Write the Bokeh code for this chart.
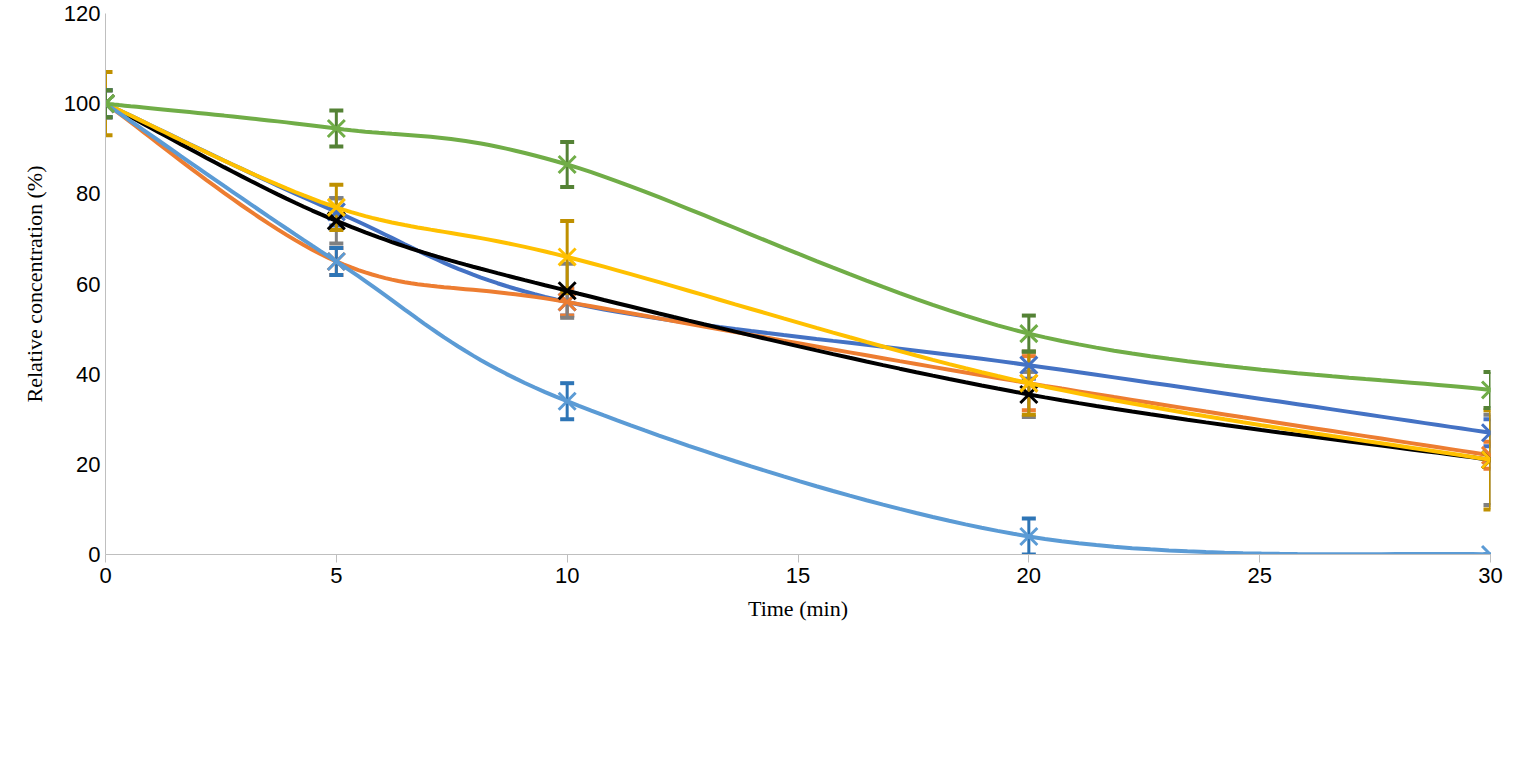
import numpy as np
from bokeh.plotting import figure
from bokeh.models import ColumnDataSource, Whisker, Legend, LegendItem
from bokeh.embed import file_html
from bokeh.resources import INLINE

time = [0, 5, 10, 20, 30]
names = ["Amoxicillin", "Ampicillin", "Phenoxymethylpenicillin", "Benzylpenicillin", "Cefotaxime", "Cefazolin"]
amox = [100, 76, 56, 42, 27]
amox_err = [3, 3, 3, 3, 3]
ampi = [100, 65, 56, 38, 22]
ampi_err = [3, 3, 3, 6, 3]
phen = [100, 74, 58.5, 35.5, 21]
phen_err = [3, 5, 6, 5, 10]
benz = [100, 77, 66, 38, 21]
benz_err = [7, 5, 8, 7, 11]
cefo = [100, 65, 34, 4, 0]
cefo_err = [3, 3, 4, 4, 0]
cefa = [100, 94.5, 86.5, 49, 36.5]
cefa_err = [3, 4, 5, 4, 4]

series = [amox, ampi, phen, benz, cefo, cefa]
errs = [amox_err, ampi_err, phen_err, benz_err, cefo_err, cefa_err]
line_colors = ["#4472C4", "#ED7D31", "#000000", "#FFC000", "#5B9BD5", "#70AD47"]
err_colors = ["#4472C4", "#ED7D31", "#808080", "#BF9000", "#2E75B6", "#548235"]

def smooth(x, y, n=30):
    x = np.asarray(x, float); y = np.asarray(y, float)
    xs, ys = [], []
    m = len(x)
    for i in range(m - 1):
        p0 = (x[i-1], y[i-1]) if i > 0 else (x[i], y[i])
        p1 = (x[i], y[i]); p2 = (x[i+1], y[i+1])
        p3 = (x[i+2], y[i+2]) if i + 2 < m else (x[i+1], y[i+1])
        c1 = (p1[0] + (p2[0]-p0[0])/6, p1[1] + (p2[1]-p0[1])/6)
        c2 = (p2[0] - (p3[0]-p1[0])/6, p2[1] - (p3[1]-p1[1])/6)
        t = np.linspace(0, 1, n, endpoint=(i == m-2))
        for a, b, cc, d, out in ((p1[0], c1[0], c2[0], p2[0], xs), (p1[1], c1[1], c2[1], p2[1], ys)):
            out.extend((1-t)**3*a + 3*(1-t)**2*t*b + 3*(1-t)*t**2*cc + t**3*d)
    return xs, ys

p = figure(width=1510, height=750, output_backend="svg", toolbar_location=None,
           x_range=(0, 30), y_range=(0, 120), min_border_left=105, min_border_right=20,
           min_border_top=13, min_border_bottom=196)
p.xgrid.visible = False
p.ygrid.visible = False
p.outline_line_color = None

items = []
for name, y, e, lc, ec in zip(names, series, errs, line_colors, err_colors):
    sx, sy = smooth(time, y)
    r1 = p.line(sx, sy, line_color=lc, line_width=4)
    src = ColumnDataSource(dict(x=time, y=y, lo=[a-b for a, b in zip(y, e)], hi=[a+b for a, b in zip(y, e)]))
    w = Whisker(base="x", lower="lo", upper="hi", source=src, line_color=ec, line_width=3)
    w.upper_head.line_color = ec; w.lower_head.line_color = ec
    w.upper_head.line_width = 4; w.lower_head.line_width = 4
    w.upper_head.size = 14; w.lower_head.size = 14
    p.add_layout(w)
    r2 = p.scatter("x", "y", source=src, marker="x", size=24, line_color=lc, line_width=3)
    items.append(LegendItem(label=name, renderers=[r1, r2]))

p.xaxis.ticker = [0, 5, 10, 15, 20, 25, 30]
p.yaxis.ticker = list(range(0, 121, 20))
for ax in (p.xaxis, p.yaxis):
    ax.axis_line_color = "#BFBFBF"
    ax.major_tick_line_color = "#BFBFBF"
    ax.minor_tick_line_color = None
    ax.major_label_text_font = "Liberation Sans"
    ax.major_label_text_font_size = "22px"
    ax.major_label_text_color = "#000000"
    ax.axis_label_text_font = "Liberation Serif"
    ax.axis_label_text_font_size = "22px"
    ax.axis_label_text_font_style = "normal"
    ax.axis_label_text_color = "#000000"
p.xaxis.major_tick_in = 0
p.xaxis.major_tick_out = 8
p.yaxis.major_tick_in = 0
p.yaxis.major_tick_out = 0
p.xaxis.axis_label = "Time (min)"
p.yaxis.axis_label = "Relative concentration (%)"
p.xaxis.axis_label_standoff = 10
p.yaxis.axis_label_standoff = 14

legend = Legend(items=items, ncols=3, orientation="horizontal", location=(-33, -165),
                glyph_width=70, glyph_height=30, label_width=400, spacing=18,
                label_text_font="Liberation Sans", label_text_font_size="22px",
                label_text_color="#000000",
                border_line_color=None, background_fill_alpha=0, padding=0, margin=0)
p.add_layout(legend, "center")

open("out.html", "w").write(file_html(p, INLINE))
